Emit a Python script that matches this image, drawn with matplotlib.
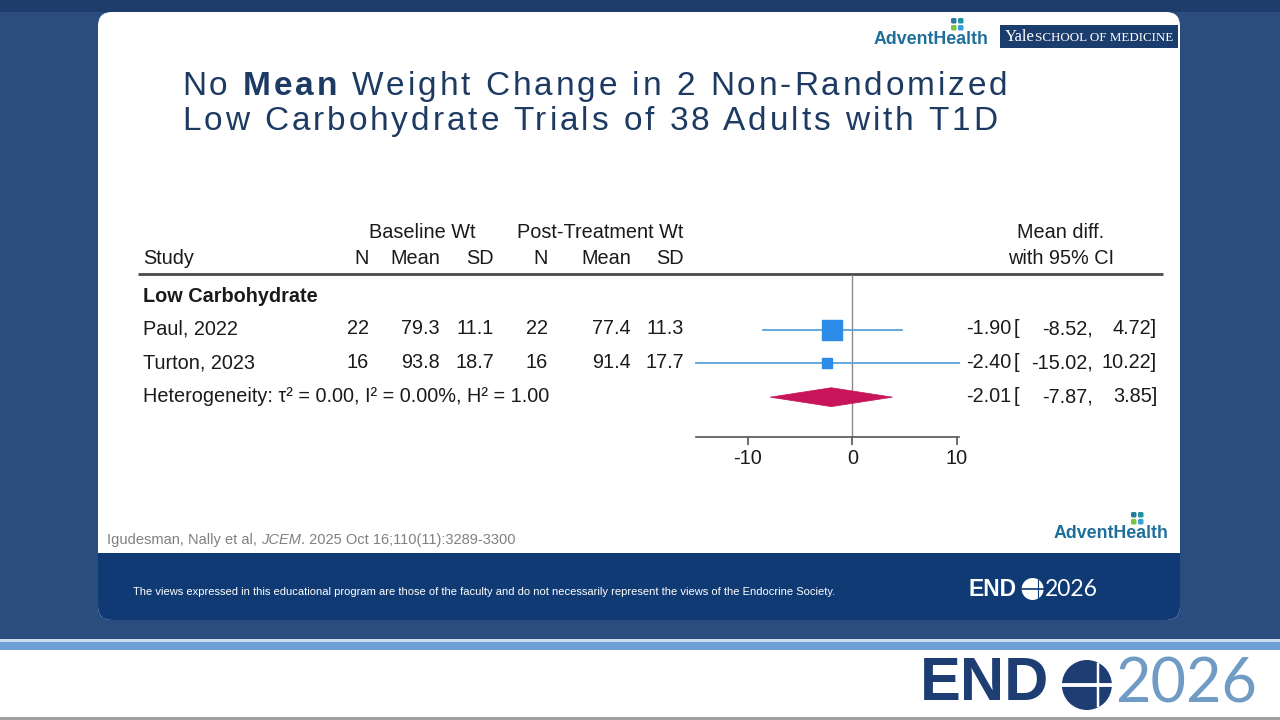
import matplotlib
matplotlib.use("Agg")
import matplotlib.pyplot as plt
from matplotlib.patches import FancyBboxPatch, Rectangle, Polygon, Circle

plt.rcParams["font.family"] = ["Liberation Sans", "DejaVu Sans"]
plt.rcParams["axes.unicode_minus"] = False

# ---- data ----
studies = ["Paul, 2022", "Turton, 2023"]
base_n = [22, 16]
base_mean = [79.3, 93.8]
base_sd = [11.1, 18.7]
post_n = [22, 16]
post_mean = [77.4, 91.4]
post_sd = [11.3, 17.7]
mean_diff = [-1.90, -2.40]
ci_low = [-8.52, -15.02]
ci_high = [4.72, 10.22]
weights = [78.4, 21.6]  # estimated from the square sizes
overall = -2.01
overall_low = -7.87
overall_high = 3.85
group_label = "Low Carbohydrate"
het_label = "Heterogeneity: τ² = 0.00, I² = 0.00%, H² = 1.00"
xticks = [-10, 0, 10]

NAVY = "#1d3a63"
BG = "#2b4d7e"
FOOT = "#0f3a73"
TXT = "#1a1a1a"
SQ = "#2b8be6"
CI_C = "#5aa2dc"
DIAM = "#c8145a"

fig = plt.figure(figsize=(12.8, 7.2), dpi=100)
fig.patch.set_facecolor(BG)
bg = fig.add_axes([0, 0, 1, 1])
bg.set_xlim(0, 1280)
bg.set_ylim(720, 0)
bg.axis("off")
bg.set_facecolor(BG)

# darker strip along the top edge of the slide background
bg.add_patch(Rectangle((0, 0), 1280, 12, fc="#1f3d6b", ec="none"))

# slide panel and footer band
bg.add_patch(FancyBboxPatch((98, 12), 1082, 608, boxstyle="round,pad=0,rounding_size=14",
                            fc="white", ec="none"))
bg.add_patch(FancyBboxPatch((98, 553), 1082, 67, boxstyle="round,pad=0,rounding_size=14",
                            fc=FOOT, ec="none"))
bg.add_patch(Rectangle((98, 553), 1082, 25, fc=FOOT, ec="none"))

# bottom stripes and white strip
bg.add_patch(Rectangle((0, 639), 1280, 3, fc="#c9dbef", ec="none"))
bg.add_patch(Rectangle((0, 642), 1280, 8, fc="#6d9fd4", ec="none"))
bg.add_patch(Rectangle((0, 650), 1280, 70, fc="white", ec="none"))
bg.add_patch(Rectangle((0, 717), 1280, 3, fc="#a0a0a0", ec="none"))

renderer = fig.canvas.get_renderer()


def text_w(s, **kw):
    t = bg.text(0, 0, s, **kw)
    w = t.get_window_extent(renderer).width
    t.remove()
    return w


def spaced_text(x0, y, segments, size, spacing, color):
    # draws letter-spaced text, one glyph at a time
    x = x0
    for seg, weight in segments:
        kw = dict(fontsize=size, fontweight=weight)
        for i, ch in enumerate(seg):
            if ch == " ":
                continue
            pre = text_w(seg[:i + 1], **kw) - text_w(ch, **kw)
            bg.text(x + pre + i * spacing, y, ch, color=color, va="baseline", ha="left", **kw)
        x += text_w(seg + ".", **kw) - text_w(".", **kw) + len(seg) * spacing


# title
spaced_text(182, 95, [("No ", "normal"), ("Mean", "bold"),
                      (" Weight Change in 2 Non-Randomized", "normal")], 24, 2.95, NAVY)
spaced_text(182, 130, [("Low Carbohydrate Trials of 38 Adults with T1D", "normal")], 24, 2.95, NAVY)

# logos at top right
for (dx, dy, c) in [(0, 0, "#2a7b9b"), (7, 0, "#1f93a6"), (0, 7, "#7cc242"), (7, 7, "#3a9fd8")]:
    bg.add_patch(FancyBboxPatch((951 + dx, 18 + dy), 5.5, 5.5, boxstyle="round,pad=0,rounding_size=1.5",
                                fc=c, ec="none"))
bg.text(931, 40, "AdventHealth", fontsize=12.8, fontweight="bold", color="#1f6f9b",
        ha="center", va="center")
bg.add_patch(Rectangle((1000, 25), 178, 23, fc="#1b3d6e", ec="none"))
bg.text(1005, 37, "Yale", family=["Liberation Serif", "DejaVu Serif"], fontsize=12,
        color="white", va="center")
bg.text(1035, 38, "SCHOOL OF MEDICINE", family=["Liberation Serif", "DejaVu Serif"], fontsize=9.4,
        color="white", va="center")

# table header
HDR_Y1, HDR_Y2 = 232, 259
bg.text(143, HDR_Y2, "Study", fontsize=14.3, color=TXT, va="center")
bg.text(422, HDR_Y1, "Baseline Wt", fontsize=14.3, color=TXT, va="center", ha="center")
bg.text(600, HDR_Y1, "Post-Treatment Wt", fontsize=14.3, color=TXT, va="center", ha="center")
col_right = [369, 440, 494, 548, 631, 684]
for xr, lab in zip(col_right, ["N", "Mean", "SD", "N", "Mean", "SD"]):
    bg.text(xr, HDR_Y2, lab, fontsize=14.3, color=TXT, va="center", ha="right")
bg.text(1061, HDR_Y1, "Mean diff.", fontsize=14.3, color=TXT, va="center", ha="center")
bg.text(1061, HDR_Y2, "with 95% CI", fontsize=14.3, color=TXT, va="center", ha="center")
bg.plot([138, 1163], [274, 274], color="#4a4a4a", lw=2, solid_capstyle="butt")

# table rows
row_px = [296, 329, 363, 397]
bg.text(143, row_px[0], group_label, fontsize=14.3, fontweight="bold", color=TXT, va="center")
for i, name in enumerate(studies):
    y = row_px[i + 1]
    bg.text(143, y, name, fontsize=14.3, color=TXT, va="center")
    vals = [f"{base_n[i]}", f"{base_mean[i]:.1f}", f"{base_sd[i]:.1f}",
            f"{post_n[i]}", f"{post_mean[i]:.1f}", f"{post_sd[i]:.1f}"]
    for xr, v in zip(col_right, vals):
        bg.text(xr, y, v, fontsize=14.3, color=TXT, va="center", ha="right")
bg.text(143, row_px[3], het_label, fontsize=14.3, color=TXT, va="center")

est_all = mean_diff + [overall]
lo_all = ci_low + [overall_low]
hi_all = ci_high + [overall_high]
for y, m, lo, hi in zip(row_px[1:], est_all, lo_all, hi_all):
    bg.text(1011, y, f"{m:.2f}", fontsize=14.3, color=TXT, va="center", ha="right")
    bg.text(1014, y, "[", fontsize=14.3, color=TXT, va="center", ha="left")
    bg.text(1093, y, f"{lo:.2f},", fontsize=14.3, color=TXT, va="center", ha="right")
    bg.text(1157, y, f"{hi:.2f}]", fontsize=14.3, color=TXT, va="center", ha="right")

# forest plot axes
left_px, right_px, top_px, bot_px = 695.5, 959, 275, 437
ax = fig.add_axes([left_px / 1280, (720 - bot_px) / 720,
                   (right_px - left_px) / 1280, (bot_px - top_px) / 720])
ax.set_facecolor("none")
ax.set_xlim(min(ci_low), max(ci_high))
ax.set_ylim(4.18, -0.62)
for s in ["left", "top", "right"]:
    ax.spines[s].set_visible(False)
ax.spines["bottom"].set_color("#555555")
ax.spines["bottom"].set_linewidth(1.2)
ax.set_yticks([])
ax.set_xticks(xticks)
ax.set_xticklabels([str(t) for t in xticks])
ax.tick_params(axis="x", length=6, width=1.2, color="#555555", labelsize=14.3,
               labelcolor=TXT, pad=3)
ax.axvline(0, color="#8a8a8a", lw=1, zorder=1)

for i in range(len(studies)):
    y = i + 1
    ax.plot([ci_low[i], ci_high[i]], [y, y], color=CI_C, lw=1.3, zorder=2, clip_on=False)
    ax.plot(mean_diff[i], y, marker="s", ms=1.7 * weights[i] ** 0.5, color=SQ,
            mec=SQ, zorder=3, clip_on=False)
h = 0.28
ax.add_patch(Polygon([(overall_low, 3), (overall, 3 - h), (overall_high, 3), (overall, 3 + h)],
                     closed=True, fc=DIAM, ec=DIAM, lw=0.5, zorder=3))

# citation
t1 = bg.text(107, 540, "Igudesman, Nally et al, ", fontsize=10.5, color="#808080", va="center")
t2 = bg.annotate("JCEM", xy=(1, 0), xycoords=t1, fontsize=10.5, color="#808080",
                 style="italic", va="bottom")
bg.annotate(". 2025 Oct 16;110(11):3289-3300", xy=(1, 0), xycoords=t2, fontsize=10.5,
            color="#808080", va="bottom")

# bottom right logo in panel
for (dx, dy, c) in [(0, 0, "#2a7b9b"), (7, 0, "#1f93a6"), (0, 7, "#7cc242"), (7, 7, "#3a9fd8")]:
    bg.add_patch(FancyBboxPatch((1131 + dx, 512 + dy), 5.5, 5.5, boxstyle="round,pad=0,rounding_size=1.5",
                                fc=c, ec="none"))
bg.text(1111, 533, "AdventHealth", fontsize=12.8, fontweight="bold", color="#1f6f9b",
        ha="center", va="center")

# footer text
bg.text(133, 592, "The views expressed in this educational program are those of the faculty and do not "
        "necessarily represent the views of the Endocrine Society.", fontsize=8.0, color="white",
        va="center")


def endo_logo(x, y, size, r, c_end, c_year, c_globe, globe_line):
    t = bg.text(x, y, "END", fontsize=size, fontweight="bold", color=c_end, va="center", ha="left")
    ext = t.get_window_extent(renderer)
    cx = ext.x1 + r + r * 0.5
    bg.add_patch(Circle((cx, y), r, fc=c_globe, ec="none"))
    bg.plot([cx - r, cx + r], [y, y], color=globe_line, lw=max(1, r / 9))
    bg.plot([cx + r * 0.45, cx + r * 0.45], [y - r * 0.85, y + r * 0.85], color=globe_line,
            lw=max(0.8, r / 14))
    bg.text(cx + r * 1.15, y, "2026", fontsize=size, color=c_year, va="center", ha="left",
            family=["Lato", "Liberation Sans"])


endo_logo(968, 589, 16.5, 11, "white", "white", "white", FOOT)
endo_logo(920, 685, 44, 25, "#1d3d73", "#6f9bc4", "#1d3d73", "white")

fig.savefig("out.png", dpi=100, facecolor=fig.get_facecolor())
